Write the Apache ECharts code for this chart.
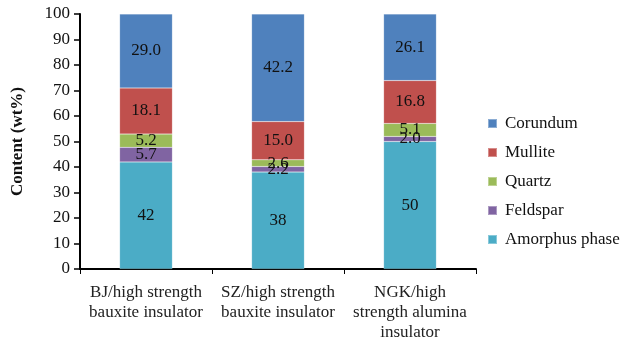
<!DOCTYPE html>
<html>
<head>
<meta charset="utf-8">
<script src="https://cdn.jsdelivr.net/npm/echarts@6/dist/echarts.min.js"></script>
<style>
  html, body { margin: 0; padding: 0; background: #fff; }
  #chart { width: 622px; height: 343px; }
</style>
</head>
<body>
<div id="chart"></div>
<script>
// Phase composition of three porcelain insulators (wt%)
const categories = [
  'BJ/high strength\nbauxite insulator',
  'SZ/high strength\nbauxite insulator',
  'NGK/high\nstrength alumina\ninsulator'
];
const amorphus = [42, 38, 50];
const feldspar = [5.7, 2.2, 2.0];
const quartz   = [5.2, 2.6, 5.1];
const mullite  = [18.1, 15.0, 16.8];
const corundum = [29.0, 42.2, 26.1];
const yTicks = { min: 0, max: 100, interval: 10 };

const FONT = '"Liberation Serif", "Times New Roman", serif';

function phase(name, values, color, digits) {
  return {
    name: name,
    type: 'bar',
    stack: 'phase',
    barCategoryGap: '60%',
    data: values,
    itemStyle: { color: color, borderColor: 'rgba(255,255,255,0.35)', borderWidth: 0.5 },
    label: {
      show: true,
      position: 'inside',
      color: '#111',
      fontFamily: FONT,
      fontSize: 17,
      formatter: p => p.value.toFixed(digits)
    }
  };
}

const chart = echarts.init(document.getElementById('chart'), null, { renderer: 'canvas' });
chart.setOption({
  animation: false,
  backgroundColor: '#fff',
  textStyle: { fontFamily: FONT },
  grid: { left: 80, right: 146, top: 14, bottom: 74, containLabel: false },
  legend: {
    orient: 'vertical',
    left: 487,
    top: 115,
    padding: 0,
    itemWidth: 9,
    itemHeight: 9,
    itemGap: 12,
    icon: 'rect',
    data: ['Corundum', 'Mullite', 'Quartz', 'Feldspar', 'Amorphus phase'],
    textStyle: { fontFamily: FONT, fontSize: 17, color: '#111', padding: [0, 0, 0, 3] }
  },
  xAxis: {
    type: 'category',
    data: categories,
    axisLine: { lineStyle: { color: '#000', width: 2 } },
    axisTick: { show: true, length: 5, lineStyle: { color: '#000', width: 1 } },
    axisLabel: {
      interval: 0,
      margin: 14,
      color: '#222',
      fontFamily: FONT,
      fontSize: 17,
      lineHeight: 20
    }
  },
  yAxis: {
    type: 'value',
    min: yTicks.min,
    max: yTicks.max,
    interval: yTicks.interval,
    name: 'Content (wt%)',
    nameLocation: 'middle',
    nameGap: 54,
    nameTextStyle: { fontFamily: FONT, fontSize: 17, fontWeight: 'bold', color: '#111' },
    splitLine: { show: false },
    axisLine: { show: true, lineStyle: { color: '#000', width: 2 } },
    axisTick: { show: true, length: 6, lineStyle: { color: '#000', width: 1.5 } },
    axisLabel: { color: '#111', fontFamily: FONT, fontSize: 17, margin: 10 }
  },
  series: [
    phase('Amorphus phase', amorphus, '#4BACC6', 0),
    phase('Feldspar', feldspar, '#8064A2', 1),
    phase('Quartz', quartz, '#9BBB59', 1),
    phase('Mullite', mullite, '#C0504D', 1),
    phase('Corundum', corundum, '#4F81BD', 1)
  ]
});
</script>
</body>
</html>
